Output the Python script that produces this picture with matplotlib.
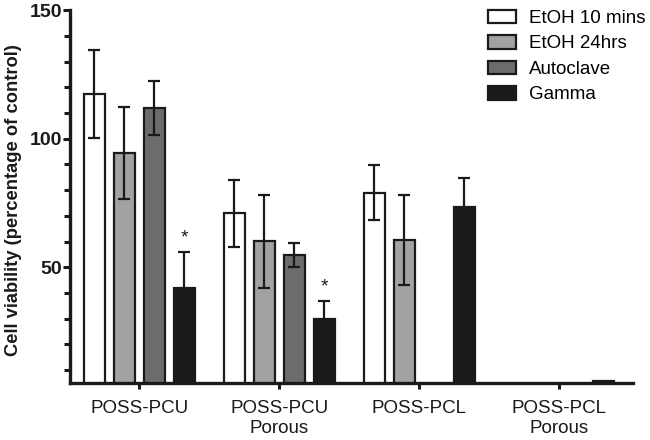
import matplotlib

matplotlib.use("Agg")

import matplotlib.pyplot as plt
import numpy as np

plt.rcParams["font.family"] = ["Liberation Sans", "DejaVu Sans"]

grupos = ["POSS-PCU", "POSS-PCU\nPorous", "POSS-PCL", "POSS-PCL\nPorous"]
tratamentos = ["EtOH 10 mins", "EtOH 24hrs", "Autoclave", "Gamma"]
cores = ["#ffffff", "#a2a2a2", "#6c6c6c", "#1a1a1a"]

etoh_10 = [117.4, 71.0, 79.0, 0]
etoh_10_err = [17.0, 13.0, 10.7, 0]
etoh_24 = [94.5, 60.1, 60.6, 0]
etoh_24_err = [17.8, 18.2, 17.6, 0]
autoclave = [111.9, 54.9, 0, 0]
autoclave_err = [10.6, 4.7, 0, 0]
gamma = [41.9, 30.0, 73.6, 5.8]
gamma_err = [14.0, 6.8, 11.1, 0]

valores = [etoh_10, etoh_24, autoclave, gamma]
erros = [etoh_10_err, etoh_24_err, autoclave_err, gamma_err]
# asterisco de significancia sobre Gamma (grupo, serie)
significativos = [(0, 3), (1, 3)]

fig = plt.figure(figsize=(6.5, 4.4), dpi=100)
ax = fig.add_axes([0.108, 0.1295, 0.866, 0.8475])

x = np.arange(len(grupos))
passo = 0.214
largura = 0.15

for k in range(len(tratamentos)):
    pos = x + (k - 1.5) * passo
    vals = np.array(valores[k])
    errs = np.array(erros[k])
    ax.bar(pos, vals, width=largura, color=cores[k], edgecolor="#1a1a1a",
           linewidth=1.6, label=tratamentos[k], zorder=2)
    mask = errs > 0
    ax.errorbar(pos[mask], vals[mask], yerr=errs[mask], fmt="none",
                ecolor="#1a1a1a", elinewidth=1.6, capsize=4.5, capthick=1.6,
                zorder=3)

for g, k in significativos:
    pos = x[g] + (k - 1.5) * passo
    topo = valores[k][g] + erros[k][g]
    ax.text(pos, topo + 2.2, "*", ha="center", va="bottom", fontsize=14,
            color="#1a1a1a")

ax.set_xlim(-0.493, 3.529)
ax.set_ylim(5, 150)

ax.spines["top"].set_visible(False)
ax.spines["right"].set_visible(False)
ax.spines["left"].set_linewidth(2.4)
ax.spines["bottom"].set_linewidth(2.4)
ax.spines["left"].set_color("#1a1a1a")
ax.spines["bottom"].set_color("#1a1a1a")

ax.set_yticks([50, 100, 150])
ax.set_yticks(np.arange(10, 150, 10), minor=True)
ax.tick_params(axis="y", which="major", length=5, width=2.2, labelsize=14,
               pad=1, colors="#1a1a1a")
ax.tick_params(axis="y", which="minor", length=4, width=2.2, colors="#1a1a1a")
for lbl in ax.get_yticklabels():
    lbl.set_fontweight("bold")

ax.set_xticks(x)
ax.set_xticklabels(grupos, fontsize=13.5, color="#1a1a1a", linespacing=1.25)
ax.tick_params(axis="x", length=4, width=2.2, pad=8, colors="#1a1a1a")

ax.set_ylabel("Cell viability (percentage of control)", fontsize=13.2,
              fontweight="bold", color="#1a1a1a")
ax.yaxis.set_label_coords(-0.085, 0.49)

ax.legend(loc="upper left", bbox_to_anchor=(0.751, 0.978),
          bbox_transform=fig.transFigure, frameon=False, fontsize=13.5,
          handlelength=1.5, handleheight=0.72, handletextpad=0.7,
          labelspacing=0.44, borderpad=0, borderaxespad=0)

fig.savefig("out.png", dpi=100)
